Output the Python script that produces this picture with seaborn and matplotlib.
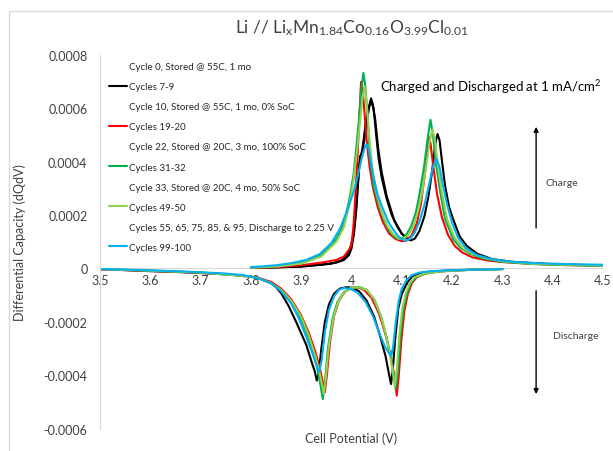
import numpy as np
import pandas as pd
import matplotlib
matplotlib.use("Agg")
import matplotlib.pyplot as plt
from matplotlib.lines import Line2D
from matplotlib.patches import Rectangle
import seaborn as sns

# ---- data (values in units of 1e-4 dQ/dV) ----
black_chg_v = [3.80, 3.85, 3.90, 3.94, 3.97, 3.985, 3.995, 4.000, 4.005, 4.010, 4.015, 4.018, 4.022,
               4.028, 4.034, 4.039, 4.044, 4.049, 4.054, 4.060, 4.070, 4.080, 4.090, 4.100, 4.110,
               4.118, 4.126, 4.135, 4.145, 4.153, 4.160, 4.165, 4.168, 4.171, 4.175, 4.180, 4.186,
               4.194, 4.202, 4.215, 4.229, 4.25, 4.28, 4.32, 4.38, 4.44, 4.50]
black_chg_q = [0.02, 0.04, 0.08, 0.14, 0.22, 0.32, 0.50, 0.75, 1.3, 2.3, 3.8, 4.15, 4.5,
               5.4, 6.0, 6.36, 6.0, 5.0, 4.1, 3.4, 2.6, 2.0, 1.6, 1.3, 1.12,
               1.05, 1.12, 1.4, 1.95, 2.7, 3.6, 4.4, 4.8, 5.03, 4.8, 4.0, 3.1,
               2.3, 1.85, 1.2, 0.85, 0.55, 0.35, 0.25, 0.18, 0.14, 0.12]

black2_chg_v = [3.80, 3.90, 3.96, 3.98, 3.99, 3.997, 4.003, 4.008, 4.013, 4.017, 4.021, 4.026,
                4.031, 4.036, 4.041, 4.047, 4.053, 4.060, 4.070, 4.085, 4.100, 4.115]
black2_chg_q = [0.02, 0.07, 0.18, 0.3, 0.45, 0.7, 1.2, 2.0, 3.2, 4.2, 4.3, 4.9,
                5.6, 6.1, 6.2, 5.6, 4.5, 3.6, 2.7, 1.8, 1.3, 1.08]

red_chg_v = [3.80, 3.85, 3.90, 3.94, 3.97, 3.985, 3.995, 4.000, 4.004, 4.008, 4.012, 4.016, 4.019,
             4.022, 4.026, 4.030, 4.036, 4.043, 4.052, 4.062, 4.075, 4.088, 4.100, 4.110, 4.120,
             4.130, 4.138, 4.145, 4.150, 4.153, 4.157, 4.162, 4.170, 4.180, 4.192, 4.205, 4.22,
             4.24, 4.27, 4.30, 4.36, 4.42, 4.50]
red_chg_q = [0.02, 0.05, 0.12, 0.22, 0.32, 0.45, 0.7, 0.9, 1.6, 2.8, 4.2, 5.8, 6.98,
             6.7, 5.8, 4.8, 3.8, 3.0, 2.3, 1.75, 1.3, 1.1, 1.02, 1.05, 1.25,
             1.7, 2.4, 3.4, 4.4, 4.94, 4.7, 3.9, 2.8, 1.9, 1.25, 0.85, 0.6,
             0.42, 0.3, 0.24, 0.17, 0.13, 0.1]

green_chg_v = [3.80, 3.85, 3.90, 3.94, 3.97, 3.985, 3.995, 4.004, 4.010, 4.015, 4.019, 4.0235,
               4.027, 4.031, 4.037, 4.045, 4.057, 4.067, 4.077, 4.088, 4.097, 4.107, 4.118,
               4.128, 4.136, 4.145, 4.151, 4.157, 4.162, 4.168, 4.176, 4.186, 4.202, 4.218,
               4.236, 4.26, 4.30, 4.36, 4.42, 4.50]
green_chg_q = [0.03, 0.08, 0.2, 0.5, 1.1, 1.7, 2.5, 3.5, 4.6, 5.6, 6.6, 7.31,
               6.9, 5.9, 4.1, 3.0, 2.2, 1.7, 1.35, 1.15, 1.1, 1.2, 1.55,
               2.1, 2.85, 3.9, 4.8, 5.56, 5.0, 3.9, 2.9, 1.85, 1.1, 0.75,
               0.55, 0.38, 0.25, 0.17, 0.13, 0.1]

lgreen_chg_v = [3.80, 3.85, 3.90, 3.94, 3.97, 3.985, 3.995, 4.004, 4.011, 4.017, 4.022, 4.026,
                4.030, 4.035, 4.041, 4.050, 4.060, 4.071, 4.082, 4.093, 4.102, 4.112, 4.122,
                4.132, 4.141, 4.149, 4.156, 4.161, 4.166, 4.172, 4.180, 4.190, 4.205, 4.222,
                4.24, 4.27, 4.30, 4.36, 4.42, 4.50]
lgreen_chg_q = [0.03, 0.07, 0.18, 0.45, 1.0, 1.55, 2.3, 3.3, 4.4, 5.5, 6.4, 6.8,
                6.3, 5.0, 3.8, 2.8, 2.1, 1.6, 1.3, 1.12, 1.1, 1.22, 1.55,
                2.1, 2.9, 3.9, 4.8, 5.2, 4.8, 3.8, 2.8, 1.85, 1.15, 0.75,
                0.55, 0.37, 0.27, 0.18, 0.14, 0.11]

cyan_chg_v = [3.80, 3.85, 3.88, 3.91, 3.937, 3.96, 3.977, 3.99, 4.004, 4.013, 4.020, 4.026,
              4.030, 4.035, 4.043, 4.052, 4.063, 4.073, 4.083, 4.094, 4.106, 4.116, 4.126,
              4.136, 4.146, 4.155, 4.162, 4.169, 4.175, 4.182, 4.190, 4.200, 4.212, 4.228,
              4.25, 4.28, 4.32, 4.38, 4.44, 4.50]
cyan_chg_q = [0.05, 0.12, 0.2, 0.32, 0.54, 0.95, 1.48, 2.1, 2.85, 3.5, 4.1, 4.5,
              4.65, 4.4, 3.47, 2.75, 2.2, 1.75, 1.45, 1.18, 1.04, 1.1, 1.35,
              1.8, 2.45, 3.2, 3.8, 4.09, 3.8, 3.1, 2.4, 1.7, 1.15, 0.75,
              0.5, 0.34, 0.25, 0.19, 0.16, 0.14]

black_dis_v = [3.50, 3.55, 3.60, 3.65, 3.70, 3.75, 3.78, 3.80, 3.82, 3.84, 3.85, 3.86, 3.875,
               3.89, 3.91, 3.92, 3.927, 3.931, 3.935, 3.940, 3.947, 3.955, 3.965, 3.977, 3.99,
               4.002, 4.015, 4.03, 4.045, 4.058, 4.068, 4.074, 4.0786, 4.082, 4.087, 4.093,
               4.10, 4.11, 4.12, 4.135, 4.16, 4.20, 4.25, 4.30]
black_dis_q = [-0.03, -0.06, -0.1, -0.13, -0.17, -0.22, -0.26, -0.3, -0.4, -0.55, -0.7, -0.92, -1.4,
               -2.0, -2.85, -3.45, -3.85, -4.19, -3.9, -3.0, -2.0, -1.35, -0.95, -0.75, -0.7,
               -0.72, -0.85, -1.2, -1.8, -2.6, -3.3, -3.9, -4.32, -3.8, -2.6, -1.5,
               -0.95, -0.55, -0.3, -0.18, -0.11, -0.07, -0.04, -0.02]

red_dis_v = [3.50, 3.55, 3.60, 3.65, 3.70, 3.75, 3.80, 3.82, 3.84, 3.86, 3.88, 3.90, 3.915,
             3.928, 3.938, 3.944, 3.947, 3.951, 3.957, 3.965, 3.975, 3.988, 4.00, 4.012, 4.025,
             4.04, 4.055, 4.068, 4.078, 4.085, 4.090, 4.094, 4.099, 4.105, 4.112, 4.12, 4.13,
             4.145, 4.17, 4.20, 4.25, 4.30]
red_dis_q = [-0.03, -0.06, -0.09, -0.12, -0.16, -0.21, -0.3, -0.38, -0.5, -0.75, -1.15, -1.75, -2.4,
             -3.1, -3.8, -4.35, -4.63, -4.0, -2.8, -1.8, -1.2, -0.85, -0.72, -0.7, -0.8,
             -1.1, -1.7, -2.5, -3.3, -4.0, -4.75, -4.0, -2.7, -1.6, -0.95, -0.55, -0.32,
             -0.2, -0.12, -0.08, -0.04, -0.02]

green_dis_v = [3.50, 3.60, 3.70, 3.80, 3.82, 3.84, 3.86, 3.88, 3.90, 3.915, 3.927, 3.936, 3.943,
               3.947, 3.953, 3.962, 3.972, 3.985, 4.00, 4.017, 4.03, 4.045, 4.058, 4.069, 4.078,
               4.084, 4.088, 4.092, 4.097, 4.103, 4.11, 4.118, 4.128, 4.145, 4.17, 4.20, 4.25, 4.30]
green_dis_q = [-0.02, -0.08, -0.15, -0.3, -0.4, -0.55, -0.8, -1.25, -1.9, -2.6, -3.35, -4.1, -4.88,
               -4.3, -3.0, -1.9, -1.25, -0.88, -0.72, -0.7, -0.8, -1.15, -1.75, -2.5, -3.3,
               -3.95, -4.5, -3.9, -2.6, -1.55, -0.95, -0.55, -0.32, -0.2, -0.12, -0.08, -0.04, -0.02]

lgreen_dis_v = [3.50, 3.60, 3.70, 3.80, 3.82, 3.84, 3.86, 3.88, 3.90, 3.915, 3.928, 3.938, 3.945,
                3.949, 3.955, 3.964, 3.974, 3.987, 4.00, 4.015, 4.03, 4.045, 4.058, 4.068, 4.076,
                4.082, 4.086, 4.090, 4.095, 4.101, 4.108, 4.116, 4.126, 4.143, 4.17, 4.20, 4.25, 4.30]
lgreen_dis_q = [-0.02, -0.08, -0.15, -0.3, -0.4, -0.55, -0.8, -1.2, -1.8, -2.5, -3.25, -4.0, -4.7,
                -4.1, -2.9, -1.85, -1.22, -0.86, -0.72, -0.7, -0.8, -1.15, -1.75, -2.45, -3.2,
                -3.85, -4.4, -3.8, -2.5, -1.5, -0.92, -0.54, -0.32, -0.2, -0.12, -0.08, -0.04, -0.02]

cyan_dis_v = [3.50, 3.55, 3.60, 3.65, 3.70, 3.75, 3.78, 3.80, 3.82, 3.84, 3.86, 3.88, 3.895,
              3.91, 3.922, 3.93, 3.936, 3.941, 3.947, 3.955, 3.965, 3.975, 3.985, 3.998, 4.012,
              4.028, 4.043, 4.056, 4.066, 4.074, 4.079, 4.083, 4.088, 4.094, 4.10, 4.11, 4.12,
              4.135, 4.16, 4.20, 4.25, 4.30]
cyan_dis_q = [-0.02, -0.04, -0.07, -0.1, -0.14, -0.19, -0.24, -0.3, -0.4, -0.55, -0.85, -1.3, -1.85,
              -2.55, -3.15, -3.6, -3.88, -3.4, -2.4, -1.55, -1.05, -0.8, -0.73, -0.76, -0.9,
              -1.25, -1.8, -2.45, -2.9, -3.15, -3.26, -2.9, -2.0, -1.2, -0.75, -0.42, -0.25,
              -0.15, -0.1, -0.06, -0.04, -0.02]

legend_labels = ["Cycle 0, Stored @ 55C, 1 mo", "Cycles 7-9",
                 "Cycle 10, Stored @ 55C, 1 mo, 0% SoC", "Cycles 19-20",
                 "Cycle 22, Stored @ 20C, 3 mo, 100% SoC", "Cycles 31-32",
                 "Cycle 33, Stored @ 20C, 4 mo, 50% SoC", "Cycles 49-50",
                 "Cycles 55, 65, 75, 85, & 95, Discharge to 2.25 V", "Cycles 99-100"]
x_ticks = [3.5, 3.6, 3.7, 3.8, 3.9, 4.0, 4.1, 4.2, 4.3, 4.4, 4.5]
x_tick_labels = ["3.5", "3.6", "3.7", "3.8", "3.9", "4", "4.1", "4.2", "4.3", "4.4", "4.5"]
y_ticks = [-0.0006, -0.0004, -0.0002, 0, 0.0002, 0.0004, 0.0006, 0.0008]
y_tick_labels = ["-0.0006", "-0.0004", "-0.0002", "0", "0.0002", "0.0004", "0.0006", "0.0008"]

BLACK, RED, GREEN, LGREEN, CYAN = "#000000", "#ff0000", "#00b050", "#92d050", "#00b0f0"
TXT = "#404040"

sns.set_style("white")
plt.rcParams['font.family'] = ['Lato', 'DejaVu Sans']
plt.rcParams['mathtext.fontset'] = 'custom'
plt.rcParams['mathtext.rm'] = 'Lato'
plt.rcParams['mathtext.default'] = 'regular'

fig = plt.figure(figsize=(6.13, 4.52), dpi=100)
ax = fig.add_axes([0.1631, 0.0487, 0.8206, 0.8285])

curves = [
    (black_chg_v, black_chg_q, BLACK), (black2_chg_v, black2_chg_q, BLACK),
    (black_dis_v, black_dis_q, BLACK),
    (red_chg_v, red_chg_q, RED), (red_dis_v, red_dis_q, RED),
    (green_chg_v, green_chg_q, GREEN), (green_dis_v, green_dis_q, GREEN),
    (lgreen_chg_v, lgreen_chg_q, LGREEN), (lgreen_dis_v, lgreen_dis_q, LGREEN),
    (cyan_chg_v, cyan_chg_q, CYAN), (cyan_dis_v, cyan_dis_q, CYAN),
]
for v, q, c in curves:
    df = pd.DataFrame({"V": v, "dQdV": np.array(q) * 1e-4})
    sns.lineplot(data=df, x="V", y="dQdV", color=c, lw=1.5, sort=False, ax=ax)

ax.set_xlim(3.5, 4.5)
ax.set_ylim(-0.0006, 0.0008)
ax.set_xticks(x_ticks)
ax.set_xticklabels(x_tick_labels)
ax.set_yticks(y_ticks)
ax.set_yticklabels(y_tick_labels)
ax.tick_params(axis='both', length=0, labelsize=9, colors=TXT)
ax.tick_params(axis='x', pad=4)
ax.tick_params(axis='y', pad=9)

for s in ['top', 'right']:
    ax.spines[s].set_visible(False)
ax.spines['bottom'].set_position(('data', 0))
ax.spines['bottom'].set_color('#d9d9d9')
ax.spines['left'].set_color('#d9d9d9')
ax.spines['bottom'].set_zorder(0)

ax.set_xlabel("Cell Potential (V)", fontsize=9, color=TXT, va='top')
ax.xaxis.set_label_coords(0.5, -0.006)
ax.set_ylabel("Differential Capacity (dQdV)", fontsize=9, color=TXT)
ax.yaxis.set_label_coords(-0.147, 0.5)

fig.text(352 / 613, 1 - 28 / 452,
         "Li // Li$_{x}$Mn$_{1.84}$Co$_{0.16}$O$_{3.99}$Cl$_{0.01}$",
         ha='center', va='center', fontsize=12.5, color=TXT)

ax.text(4.057, 0.000682, "Charged and Discharged at 1 mA/cm$^{2}$", fontsize=9.5,
        color='#000000', va='center', ha='left')
ax.annotate("", xy=(4.367, 0.00054), xytext=(4.367, 0.000141),
            arrowprops=dict(arrowstyle='-|>', color='black', lw=1, mutation_scale=7))
ax.annotate("", xy=(4.367, -0.00048), xytext=(4.367, -0.000073),
            arrowprops=dict(arrowstyle='-|>', color='black', lw=1, mutation_scale=7))
ax.text(4.385, 0.000323, "Charge", fontsize=7.5, color=TXT, va='center', ha='left')
ax.text(4.40, -0.000252, "Discharge", fontsize=7.5, color=TXT, va='center', ha='left')

leg_colors = ['none', BLACK, 'none', RED, 'none', GREEN, 'none', LGREEN, 'none', CYAN]
handles = [Line2D([], [], color=c, lw=1.5) for c in leg_colors]
ax.legend(handles, legend_labels, loc='upper left', bbox_to_anchor=(0.01, 0.99),
          frameon=False, fontsize=7, handlelength=1.9, handletextpad=0.2,
          labelspacing=1.14, borderaxespad=0, labelcolor='#262626')

fig.add_artist(Rectangle((9 / 613, -0.1), 1.2, 1 - 12 / 452 + 0.1, transform=fig.transFigure,
                         fill=False, edgecolor='#d9d9d9', lw=1))

fig.savefig("out.png", dpi=100)
